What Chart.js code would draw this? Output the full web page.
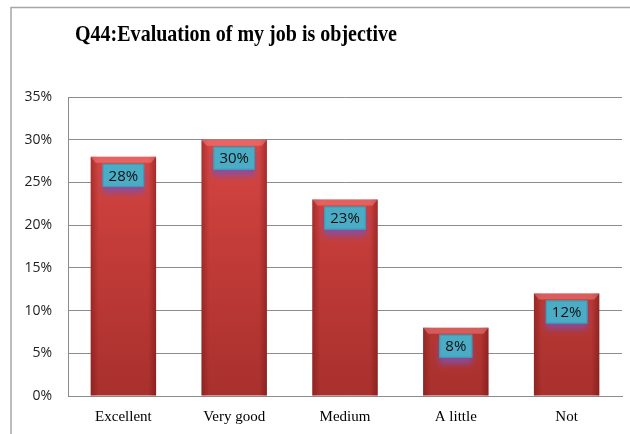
<!DOCTYPE html>
<html>
<head>
<meta charset="utf-8">
<script src="https://cdn.jsdelivr.net/npm/chart.js@4"></script>
<style>
    html, body { margin: 0; padding: 0; background: #fff; }
    #wrap { width: 630px; height: 434px; }
</style>
</head>
<body>
<div id="wrap"><canvas id="myChart" width="630" height="434"></canvas></div>
<script>
const TITLE = "Q44:Evaluation of my job is objective";
const CATEGORIES = ["Excellent", "Very good", "Medium", "A little", "Not"];
const VALUES = [28, 30, 23, 8, 12];
const Y_MIN = 0;
const Y_MAX = 35;
const Y_STEP = 5;

// frame around the whole chart plus the (narrow) title text
const framePlugin = {
    id: "frame",
    beforeDraw(chart) {
        const ctx = chart.ctx;
        ctx.save();
        ctx.strokeStyle = "#a6a6a6";
        ctx.lineWidth = 1.5;
        ctx.strokeRect(11, 7.5, 700, 500);
        ctx.fillStyle = "#000";
        ctx.font = "bold 23px 'Liberation Serif'";
        ctx.textBaseline = "alphabetic";
        ctx.textAlign = "left";
        const w = ctx.measureText(TITLE).width;
        ctx.translate(75, 41);
        ctx.scale(322 / w, 1);
        ctx.fillText(TITLE, 0, 0);
        ctx.restore();
    },
};

// bevel shading on each bar, then the boxed value labels
const barStylePlugin = {
    id: "barStyle",
    afterDatasetsDraw(chart) {
        const ctx = chart.ctx;
        const meta = chart.getDatasetMeta(0);
        ctx.save();
        meta.data.forEach((bar, i) => {
            const left = bar.x - bar.width / 2;
            const right = bar.x + bar.width / 2;
            const top = bar.y;
            const h = bar.base - bar.y;

            // darker edges left and right
            const side = ctx.createLinearGradient(left, 0, right, 0);
            side.addColorStop(0, "rgba(90,10,10,0.35)");
            side.addColorStop(0.12, "rgba(90,10,10,0)");
            side.addColorStop(0.88, "rgba(90,10,10,0)");
            side.addColorStop(1, "rgba(90,10,10,0.4)");
            ctx.fillStyle = side;
            ctx.fillRect(left, top, bar.width, h);

            // light bevel on the top
            ctx.fillStyle = "rgba(255,140,140,0.45)";
            ctx.beginPath();
            ctx.moveTo(left, top);
            ctx.lineTo(right, top);
            ctx.lineTo(right - 5, top + 6);
            ctx.lineTo(left + 5, top + 6);
            ctx.closePath();
            ctx.fill();

            // value label box
            const text = VALUES[i] + "%";
            ctx.font = "15px 'Open Sans'";
            const tw = ctx.measureText(text).width;
            const bw = tw + 12;
            const bh = 23;
            const bx = bar.x - bw / 2;
            const by = top + 7;
            ctx.save();
            ctx.shadowColor = "rgba(128,80,170,0.85)";
            ctx.shadowBlur = 6;
            ctx.shadowOffsetY = 6;
            ctx.fillStyle = "#4bacc6";
            ctx.fillRect(bx, by, bw, bh);
            ctx.restore();
            ctx.strokeStyle = "#3d9ab4";
            ctx.lineWidth = 1;
            ctx.strokeRect(bx + 0.5, by + 0.5, bw - 1, bh - 1);
            ctx.fillStyle = "#111";
            ctx.textAlign = "center";
            ctx.textBaseline = "middle";
            ctx.fillText(text, bar.x, by + bh / 2 + 1);
        });
        ctx.restore();
    },
};

function barGradient(context) {
    const chart = context.chart;
    const area = chart.chartArea;
    if (!area) return "#c0504d";
    const g = chart.ctx.createLinearGradient(0, area.top, 0, area.bottom);
    g.addColorStop(0, "#de4845");
    g.addColorStop(1, "#a8302d");
    return g;
}

const data1 = {
    labels: CATEGORIES,
    datasets: [
        {
            data: VALUES,
            backgroundColor: barGradient,
            borderWidth: 0,
            categoryPercentage: 1,
            barPercentage: 0.59,
        },
    ],
};

const config1 = {
    type: "bar",
    data: data1,
    plugins: [framePlugin, barStylePlugin],
    options: {
        responsive: false,
        animation: false,
        layout: { padding: { top: 97, right: 8, left: 0, bottom: 0 } },
        plugins: {
            legend: { display: false },
            title: { display: false },
            tooltip: { enabled: false },
        },
        scales: {
            x: {
                afterFit(scale) { scale.height = 38; },
                grid: { display: false, drawTicks: false },
                border: { color: "#8c8c8c", width: 1 },
                ticks: {
                    padding: 12,
                    color: "#000",
                    font: { family: "'Liberation Serif'", size: 15 },
                },
            },
            y: {
                min: Y_MIN,
                max: Y_MAX,
                afterFit(scale) { scale.width = 68; },
                grid: { color: "#8c8c8c", drawTicks: false },
                border: { color: "#8c8c8c", width: 1 },
                ticks: {
                    stepSize: Y_STEP,
                    padding: 16,
                    color: "#222",
                    font: { family: "'Open Sans'", size: 14 },
                    callback: (v) => v + "%",
                },
            },
        },
    },
};

var ctx = document.getElementById("myChart").getContext("2d");
var myChart = new Chart(ctx, config1);
</script>
</body>
</html>
